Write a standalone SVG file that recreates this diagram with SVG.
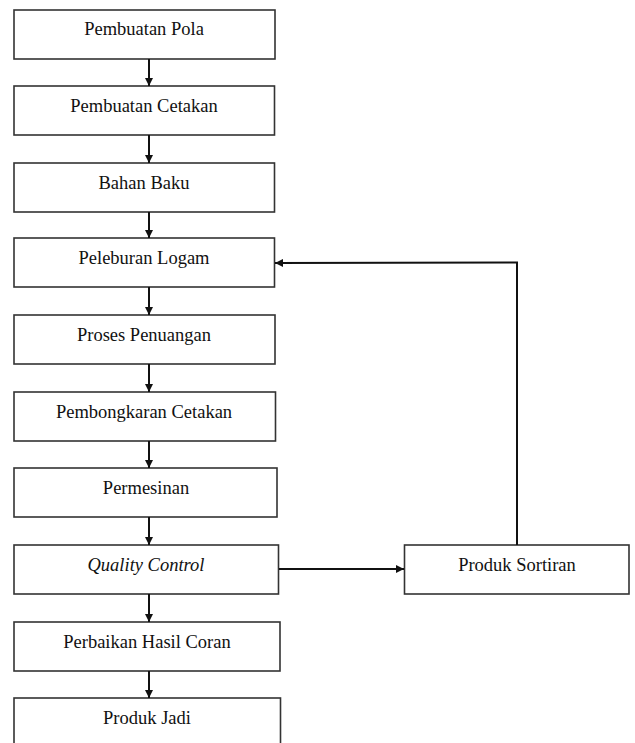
<svg xmlns="http://www.w3.org/2000/svg" width="635" height="743" viewBox="0 0 635 743">
<defs>
<marker id="ah" viewBox="0 0 10 10" refX="10" refY="5" markerWidth="4" markerHeight="4" markerUnits="strokeWidth" orient="auto">
<path d="M0,0 L10,5 L0,10 z" fill="#111"/>
</marker>
<style>
.box{fill:#fff;stroke:#333;stroke-width:1.6}
.t{font-family:"Liberation Serif","Times New Roman",serif;font-size:18.5px;fill:#111;text-anchor:middle}
.c{fill:none;stroke:#111;stroke-width:2;marker-end:url(#ah)}
</style>
</defs>
<rect width="635" height="743" fill="#fff"/>
<g id="n1"><rect class="box" x="14" y="10" width="261" height="49"/><text class="t" x="144" y="35">Pembuatan Pola</text></g>
<g id="n2"><rect class="box" x="14" y="86" width="260.5" height="49"/><text class="t" x="144" y="112">Pembuatan Cetakan</text></g>
<g id="n3"><rect class="box" x="14" y="163" width="260.5" height="49"/><text class="t" x="144" y="189">Bahan Baku</text></g>
<g id="n4"><rect class="box" x="14" y="238" width="260.5" height="49"/><text class="t" x="144" y="264">Peleburan Logam</text></g>
<g id="n5"><rect class="box" x="14" y="315" width="261" height="49"/><text class="t" x="144" y="341">Proses Penuangan</text></g>
<g id="n6"><rect class="box" x="14" y="392" width="261.5" height="49"/><text class="t" x="144" y="418">Pembongkaran Cetakan</text></g>
<g id="n7"><rect class="box" x="14" y="468" width="263" height="49"/><text class="t" x="146" y="494">Permesinan</text></g>
<g id="n8"><rect class="box" x="14" y="545" width="264.5" height="49"/><text class="t" x="146" y="571" font-style="italic">Quality Control</text></g>
<g id="n9"><rect class="box" x="14" y="622" width="266" height="49"/><text class="t" x="147" y="648">Perbaikan Hasil Coran</text></g>
<g id="n10"><rect class="box" x="14" y="698" width="266.5" height="50"/><text class="t" x="147" y="724">Produk Jadi</text></g>
<g id="n11"><rect class="box" x="404.5" y="545" width="224.5" height="49"/><text class="t" x="517" y="571">Produk Sortiran</text></g>
<g id="connectors">
<line class="c" x1="149" y1="59" x2="149" y2="86"/>
<line class="c" x1="149" y1="135" x2="149" y2="163"/>
<line class="c" x1="149" y1="212" x2="149" y2="238"/>
<line class="c" x1="149" y1="287" x2="149" y2="315"/>
<line class="c" x1="149" y1="364" x2="149" y2="392"/>
<line class="c" x1="149" y1="441" x2="149" y2="468"/>
<line class="c" x1="149" y1="517" x2="149" y2="545"/>
<line class="c" x1="149" y1="594" x2="149" y2="622"/>
<line class="c" x1="149" y1="671" x2="149" y2="698"/>
<line class="c" x1="279" y1="569" x2="404" y2="569"/>
<polyline class="c" points="517,545 517,262.5 275,263"/>
</g>
</svg>
